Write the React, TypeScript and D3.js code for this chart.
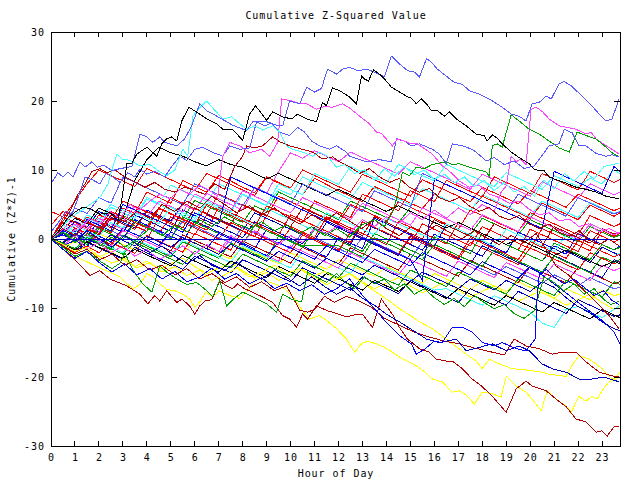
import React from "react";
import * as d3 from "d3";

type Pt = [number, number];

// ---------- axis data ----------
const HOUR_TICKS = d3.range(0, 24);
const VALUE_TICKS = [-30, -20, -10, 0, 10, 20, 30];
const TITLE = "Cumulative Z-Squared Value";
const X_TITLE = "Hour of Day";
const Y_TITLE = "Cumulative (Z*Z)-1";

// half-hour sample grid used by the dense "tangle" series
const GRID = [0,0.5,1,1.5,2,2.5,3,3.5,4,4.5,5,5.5,6,6.5,7,7.5,8,8.5,9,9.5,10,10.5,11,11.5,12,12.5,13,13.5,14,14.5,15,15.5,16,16.5,17,17.5,18,18.5,19,19.5,20,20.5,21,21.5,22,22.5,23,23.5,23.75];

// ---------- tangle series (values on GRID) ----------
const t01 = [0,1.5,0.8,3.2,2.4,1.6,4.5,3.7,6.8,6.0,5.2,8.5,7.6,6.8,9.2,8.4,7.5,6.7,9.0,8.1,7.2,6.4,8.8,7.9,7.0,6.2,5.4,7.6,6.8,6.0,5.2,4.4,6.5,5.7,4.9,4.1,6.2,5.4,4.6,3.8,3.0,5.2,4.4,3.6,2.8,4.9,4.1,3.3,3.8];
const t02 = [0,-0.8,1.2,0.4,2.6,1.8,1.0,3.5,2.7,1.9,1.1,4.2,3.4,2.6,1.8,1.0,0.2,2.5,1.7,0.9,0.1,-0.7,1.6,0.8,0.0,-0.8,2.4,1.6,0.8,0.0,-0.8,-1.6,0.7,-0.1,-0.9,-1.7,-2.5,0.0,-0.8,-1.6,-2.4,-3.2,-1.0,-1.8,-2.6,-3.4,-1.2,-2.0,-2.4];
const t03 = [0,1,0.2,-0.6,1.8,1,3.4,2.6,1.8,4.5,3.7,2.9,5.6,4.8,4,3.2,2.4,4.8,4,6.8,6,5.2,4.4,3.6,2.8,5.5,4.7,3.9,3.1,2.3,4.6,3.8,3,2.2,1.4,0.6,3,2.2,1.4,0.6,2.8,2,1.2,0.4,-0.4,1.8,1,0.2,0.6];
const t04 = [0,2,1.2,3.5,2.7,5,4.2,3.4,6,5.2,7.8,7,6.2,5.4,8,7.2,6.4,5.6,4.8,7.2,6.4,9,8.2,7.4,6.6,5.8,8.2,7.4,6.6,5.8,5,7.3,6.5,5.7,4.9,4.1,6.4,5.6,4.8,4,3.2,5.5,4.7,3.9,3.1,5.3,4.5,3.7,4];
const t05 = [0,0.8,2.6,1.8,1,3.2,2.4,4.8,4,3.2,2.4,5,4.2,6.6,5.8,5,4.2,7.4,6.6,9.8,12.5,11.7,12.8,12,11.2,12.6,11.8,11,10.2,9.4,11.2,10.4,9.6,8.8,8,7.2,9.4,8.6,7.8,7,6.2,8.3,7.5,6.7,5.9,8,7.2,6.4,6.8];
const t06 = [2,4,3.2,2.4,1.6,4,3.2,2.4,1.6,0.8,3.2,2.4,1.6,0.8,0,2.4,1.6,0.8,0,-0.8,1.6,0.8,0,-0.8,-1.6,0.9,0.1,-0.7,-1.5,-2.3,0.2,-0.6,-1.4,-2.2,-3,-0.5,-1.3,-2.1,-2.9,-3.7,-1.3,-2.1,-2.9,-3.7,-4.5,-2,-2.8,-3.6,-3.2];
const t07 = [0,-1,-0.2,-1.2,1.5,0.7,-0.1,2.8,2,1.2,0.4,-0.4,2.6,1.8,1,0.2,-0.6,-1.4,1.4,0.6,-0.2,-1,-1.8,-2.6,0.2,-0.6,-1.4,3,2.2,1.4,0.6,-0.2,-1,2,1.2,0.4,-0.4,-1.2,-2,1,0.2,-0.6,-1.4,-2.2,0.8,0,-0.8,-1.6,-1];
const t08 = [0,-0.6,1.6,0.8,0,-0.8,1.5,0.7,-0.1,-0.9,-1.7,0.6,-0.2,-1,-1.8,-2.6,-0.3,-1.1,-1.9,-2.7,-3.5,-1.2,-2,-2.8,-3.6,-1.3,-2.1,-2.9,-3.7,-4.5,-2.2,-3,-3.8,-4.6,-5.4,-3.1,-3.9,-4.7,-5.5,-6.3,-4,-4.8,-5.6,-6.4,-4.1,-4.9,-5.7,-6.5,-6.2];
const t09 = [0,1.4,0.6,-0.2,2,1.2,0.4,-0.4,1.8,1,0.2,2.6,1.8,1,0.2,-0.6,1.8,1,0.2,-0.6,-1.4,1,0.2,-0.6,-1.4,-2.2,0.3,-0.5,-1.3,-2.1,-2.9,-0.4,-1.2,-2,-2.8,-3.6,-4.4,-5.2,-4,-4.8,-5.6,-6.4,-5.2,-6,-6.8,-5.6,-6.4,-7.2,-7];
const t10 = [0,-1,-2,0.5,-0.3,-1.1,1.5,0.7,-0.1,3,2.2,1.4,0.6,3.5,2.7,1.9,1.1,0.3,3.4,2.6,1.8,1,0.2,3.2,2.4,1.6,0.8,0,-0.8,2.5,1.7,0.9,0.1,-0.7,2.4,1.6,0.8,0,-0.8,-1.6,1.4,0.6,-0.2,-1,-1.8,1.2,0.4,-0.4,0];
const t11 = [0,-1.2,-0.4,-1.6,-2.6,-1.8,-3,-4,-3.2,-4.4,-3.6,-2.8,-4,-5,-4.2,-3.4,-4.6,-5.6,-4.8,-6,-5.2,-4.4,-5.6,-6.6,-5.8,-5,-6.2,-7.2,-6.4,-5.6,-6.8,-7.8,-7,-6.2,-7.4,-8.4,-7.6,-6.8,-8,-9,-8.2,-7.4,-8.6,-9.6,-8.8,-8,-9.2,-10.2,-9.8];
const t12 = [0,1,2.5,1.7,4,3.2,2.4,1.6,4.2,3.4,2.6,5.2,4.4,3.6,2.8,2,1.2,3.8,3,2.2,1.4,0.6,-0.2,2.4,1.6,0.8,0,-0.8,-1.6,-2.4,0.4,-0.4,-1.2,-2,-2.8,-3.6,-1,-1.8,-2.6,-3.4,-4.2,-5,-2.4,-3.2,-4,-4.8,-5.6,-3,-3.4];
const t13 = [0,-1,0.8,0,-0.8,-1.6,0.6,-0.2,-1,-1.8,-2.6,-0.4,-1.2,-2,-2.8,-0.6,-1.4,-2.2,-3,0.5,-0.3,-1,-1,-1,-1,-1.8,-2.6,0.2,-0.6,-1.4,-2.2,-3,-0.8,-1.6,-2.4,-3.2,-4,-1.6,-2.4,-3.2,-4,-4.8,-2.5,-3.3,-4.1,-4.9,-2.6,-3.4,-3];
const t14 = [0,2.4,1.6,0.8,3.5,2.7,5.5,4.7,3.9,3.1,6,5.2,4.4,3.6,6.5,5.7,4.9,4.1,3.3,6.2,5.4,4.6,3.8,3,2.2,5,4.2,3.4,2.6,5.4,4.6,3.8,3,2.2,1.4,4.2,3.4,2.6,1.8,1,3.8,3,2.2,1.4,0.6,3.4,2.6,1.8,2.2];
const t15 = [0,-0.8,-1.6,0.4,-0.4,-1.2,-2,0,-0.8,-1.6,-2.4,-0.2,-1,-1.8,-2.6,-3.4,-1,-1.8,-2.6,-3.4,-4.2,-1.8,-2.6,-3.4,-4.2,-5,-2.6,-3.4,-4.2,-5,-5.8,-6.6,-7.4,-7.2,-8,-8.8,-9.6,-8.2,-9,-9.8,-10.6,-12.2,-12.8,-10.2,-9.8,-10.6,-11.4,-10.2,-9.6];
const t16 = [0,-0.6,1.4,0.6,-0.2,-1,1.2,0.4,-0.4,-1.2,1,0.2,-0.6,-1.4,-2.2,0,-0.8,-1.6,-2.4,-3.2,-1,-1.8,-2.6,-3.4,-4.2,-2,-2.8,-3.6,-4.4,-5.2,-3,-3.8,-4.6,-5.4,-3.2,-4,-4.8,-5.6,-3.4,-4.2,-5,-5.8,-3.6,-4.4,-5.2,-6,-3.8,-4.6,-4.2];
const t17 = [4,3.2,2.4,1.6,0.8,3.5,2.7,1.9,1.1,4.5,3.7,2.9,2.1,1.3,4.6,3.8,3,2.2,1.4,0.6,3.5,2.7,1.9,1.1,0.3,-0.5,2.5,1.7,0.9,0.1,-0.7,2.2,1.4,0.6,-0.2,-1,1.8,1,0.2,-0.6,-1.4,1.5,0.7,-0.1,-0.9,-1.7,1.2,0.4,0.8];
const t18 = [0,1.2,0.4,2.8,2,1.2,5,4.2,3.4,2.6,1.8,1,3.8,3,2.2,9,8.2,7.4,6.6,5.8,5,4.2,3.4,2.6,1.8,1,0.2,-0.6,-1.4,-2.2,-3,-6,8.7,7.9,7.1,6.3,5.5,4.7,3.9,3.1,2.3,1.5,9.8,9,8.2,7.4,6.6,10.5,9.8];
const t19 = [0,1,2.2,1.4,0.6,3,2.2,1.4,4,3.2,2.4,1.6,4.5,3.7,2.9,2.1,5,4.2,3.4,2.6,1.8,4.5,3.7,2.9,2.1,1.3,0.5,3.2,2.4,1.6,0.8,0,2.8,2,1.2,0.4,-0.4,2.2,1.4,0.6,-0.2,-1,1.8,1,0.2,-0.6,1.5,0.7,1];
const t20 = [0,-1.2,-2,-0.5,-1.3,-2.1,-2.9,-1.2,-2,-2.8,-3.6,-4.4,-2.5,-3.3,-4.1,-4.9,-3,-3.8,-4.6,-5.4,-6.2,-4.2,-5,-5.8,-6.6,-7.4,-5.5,-6.3,-7.1,-7.9,-6,-6.8,-7.6,-8.4,-9.2,-7.2,-8,-8.8,-9.6,-7.6,-8.4,-9.2,-10,-10.8,-8.8,-9.6,-10.4,-11.2,-11];
const t21 = [0,0.8,0,-0.8,1.5,0.7,-0.1,2.4,1.6,0.8,0,3.2,2.4,1.6,0.8,0,-0.8,2,1.2,0.4,-0.4,-1.2,1.4,0.6,-0.2,-1,-1.8,0.8,0,-0.8,-1.6,-2.4,0.3,-0.5,-1.3,-2.1,0.8,0,-0.8,-1.6,-2.4,-3.2,-0.6,-1.4,-2.2,-3,-0.8,-1.6,-1.2];
const t22 = [0,1.6,0.8,3,2.2,4.6,3.8,3,5.8,5,4.2,3.4,2.6,5.2,4.4,3.6,2.8,2,4.4,3.6,2.8,2,1.2,3.8,3,2.2,1.4,0.6,3,2.2,1.4,0.6,-0.2,2.2,1.4,0.6,-0.2,-1,1.4,0.6,-0.2,-1,-1.8,0.6,-0.2,-1,-1.8,-2.6,-2];
const t23 = [0,-1,-2,-1,-2,-0.5,-1.3,-2.1,0.5,-0.3,-1.1,-1.9,0.8,0,-0.8,-1.6,1.2,0.4,-0.4,-1.2,-2,0.6,-0.2,-1,-1.8,1,0.2,-0.6,-1.4,-2.2,0.5,-0.3,-1.1,-1.9,-2.7,0.2,-0.6,-1.4,-2.2,-3,-0.4,-1.2,-2,-2.8,-0.2,-1,-1.8,-2.6,-2.2];
const t24 = [0,-0.8,-1.6,-0.4,-1.2,-2,-2.8,-1.5,-2.3,-3.1,-3.9,-2.4,-3.2,-4,-4.8,-3.2,-4,-4.8,-5.6,-4,-4.8,-5.6,-6.4,-5,-5.8,-6.6,-7.4,-6,-6.8,-7.6,-6.2,-7,-7.8,-8.6,-7.2,-8,-8.8,-9.6,-8.2,-9,-9.8,-10.6,-9.2,-10,-10.8,-11.6,-10.2,-11,-11.4];
const t25 = [0,1.5,3,2.2,4.5,3.7,2.9,8.5,11.5,13.3,12.5,12,11.2,10.6,11.5,10.8,10.4,9.5,8.7,9.5,8.7,7.9,7.1,6.3,7.2,6.4,5.6,4.8,4,4.8,4,3.2,2.4,1.6,2.4,1.6,0.8,0,-0.8,0,-0.8,-1.6,-2.4,-1.6,-2.4,-3.2,-4,-3.2,-3.6];
const t26 = [0,3,5.5,8,10,9.2,8.4,7.6,10.2,9.4,8.6,7.8,7,9.5,8.7,7.9,7.1,6.3,9,8.2,7.4,10,9.2,8.4,7.6,6.8,9.4,8.6,7.8,7,6.2,8.6,7.8,7,6.2,5.4,7.5,6.7,5.9,5.1,7,6.2,5.4,4.6,6.5,5.7,4.9,4.1,4.5];
const t27 = [0,2,4.5,3.7,6,5.2,9,8.2,7.4,6.6,5.8,5,8,7.2,6.4,5.6,4.8,7.5,6.7,5.9,5.1,8,7.2,6.4,5.6,4.8,4,7,6.2,5.4,4.6,9.5,8.7,7.9,7.1,6.3,5.5,4.7,3.9,6.5,5.7,4.9,4.1,3.3,6,5.2,4.4,3.6,4];
const t28 = [0,0.6,-0.2,1.2,0.4,-0.4,1.5,0.7,-0.1,-0.9,1,0.2,-0.6,-1.4,0.8,0,-0.8,-1.6,-2.4,-0.5,-1.3,-2.1,-2.9,-1,-1.8,-2.6,-3.4,-1.5,-2.3,-3.1,-3.9,-2,-2.8,-3.6,-4.4,-5.2,-3.3,-4.1,-4.9,-5.7,-4,-5.2,-6.5,-7.8,-9.2,-10.5,-11.8,-13.5,-15.2];
const t29 = [0,-0.5,0.8,0,-0.8,0.6,-0.2,-1,0.4,-0.4,-1.2,0.2,-0.6,-1.4,-2.2,-0.8,-1.6,-2.4,-3.2,-1.8,-2.6,-3.4,-4.2,-2.8,-3.6,-4.4,-5.2,-3.8,-4.6,-5.4,-6.2,-4.8,-5.6,-6.4,-7.2,-5.8,-6.6,-7.4,-6,-6.8,-7.6,-6.2,-7,-8.5,-9.8,-10.7,-12,-13,-13.3];
const t30 = [0,1,0.2,-0.6,0.8,0,-0.8,-1.6,0.5,-0.3,-1.1,-1.9,-0.5,-1.3,-2.1,-2.9,-1.2,-2,-2.8,-3.6,-2,-2.8,-3.6,-4.4,-3,-3.8,-4.6,-5.4,-4,-4.8,-5.6,-6.4,-5,-5.8,-6.6,-7.4,-6,-6.8,-7.6,-6.2,-7,-7.8,-8.6,-7.2,-8,-8.8,-7.4,-8.2,-8];
const t31 = [0,1.2,0.4,2.5,1.7,0.9,3.2,2.4,1.6,4.4,3.6,2.8,2,5,4.2,3.4,2.6,1.8,4.8,4,3.2,2.4,5.5,4.7,3.9,3.1,6.5,5.7,4.9,4.1,7,6.2,5.4,8.5,7.7,6.9,6.1,9,8.2,7.4,6.6,9.5,8.7,7.9,7.1,9.8,9,8.2,8.6];
const t32 = [0,-0.6,-1.4,0.2,-0.6,-1.4,-2.2,-0.5,-1.3,-2.1,-2.9,-3.7,-1.8,-2.6,-3.4,-4.2,-2.2,-3,-3.8,-4.6,-5.4,-3.2,-4,-4.8,-5.6,-3.5,-4.3,-5.1,-5.9,-6.7,-4.5,-5.3,-6.1,-6.9,-4.8,-5.6,-6.4,-7.2,-8,-5.8,-6.6,-7.4,-8.2,-6,-6.8,-7.6,-8.4,-6.2,-6.6];
const t33 = [0,1,2.2,1.4,3,2.2,1.4,4,3.2,5.5,4.7,3.9,6.5,5.7,4.9,4.1,7,6.2,5.4,4.6,3.8,6,5.2,4.4,3.6,2.8,5.2,4.4,3.6,2.8,2,4.5,3.7,2.9,2.1,1.3,3.5,2.7,1.9,1.1,3.2,2.4,1.6,0.8,0,2.2,1.4,0.6,1];
const t34 = [0,0.8,2,1.2,0.4,2.4,1.6,3.8,3,2.2,4.6,3.8,3,5.5,4.7,3.9,6.5,5.7,4.9,8,7.2,6.4,9.5,8.7,7.9,10.5,9.7,8.9,8.1,10.8,10,9.2,8.4,10.8,10,9.2,8.4,7.6,9.6,8.8,8,7.2,9.2,8.4,7.6,8.8,8,10,9.5];

// early part of the late-jumping magenta series, on GRID up to 18.5 h
const fEarly = [0,-1,0.5,-1.5,-0.5,-2,-1,-2.5,-1.5,-3,-2,-1,-2.2,-0.8,-1.8,0.5,-0.5,1.2,0.2,-0.8,0.5,-0.5,1.5,0.8,2,1,2.8,1.8,3.2,2.2,3.8,2.8,4.2,3,4.5,3.5,5,4];

// ---------- traced series ([hour, value]) ----------
const sA: Pt[] = [[0,8],[0.29,9.6],[0.5,9],[0.71,9.7],[0.92,9],[1.21,11.2],[1.42,10.4],[1.71,11.2],[1.92,10.4],[2.21,10.7],[2.54,9.9],[2.88,10.2],[3.38,10.5],[3.71,15.2],[4,14.8],[4.25,14],[4.54,14.8],[4.75,14],[5.25,13.5],[5.58,14.5],[5.88,16.5],[6.21,19.6],[6.5,18.6],[6.92,17.8],[7.33,17],[7.58,16.5],[8.17,15.7],[8.42,17],[9,17],[9.42,16.5],[9.67,16.4],[9.96,20],[10.38,19.6],[10.67,22],[11,21.3],[11.29,21.8],[11.54,24.6],[11.92,23.9],[12.17,24.6],[12.46,24.9],[12.79,24.4],[13.17,24.6],[13.5,24.2],[13.92,23.5],[14.21,26.5],[14.54,25.4],[14.88,24.4],[15.17,24.2],[15.38,23.5],[15.67,26.1],[15.83,25.8],[16.13,24.6],[16.5,23.6],[16.83,22.7],[17.17,22.4],[17.46,21.5],[17.88,21],[18.29,20.3],[18.83,19.1],[19.21,18.1],[19.54,17.8],[19.83,17.1],[20.08,19.6],[20.38,19.8],[20.67,20.7],[20.88,20.3],[21.21,22.5],[21.42,22.8],[21.71,22.2],[22.17,20.7],[22.58,19.3],[22.88,18.1],[23.17,17.1],[23.42,17.4],[23.71,20.3]];
const sB: Pt[] = [[0,0],[0.29,1],[0.67,2.9],[1,3.9],[1.33,4.6],[1.63,4.4],[2.04,3.6],[2.46,3.8],[2.79,2.6],[2.96,5.8],[3.17,10.9],[3.38,11],[3.58,12.3],[4,13.3],[4.42,12],[4.63,13.8],[4.83,14.5],[5.04,14.8],[5.25,14.2],[5.46,17.1],[5.75,19.1],[6.08,18.4],[6.5,17.4],[6.92,16.7],[7.17,15.9],[7.58,15.9],[8,14.3],[8.29,18.1],[8.54,19.3],[9,17.2],[9.25,18.4],[9.67,17.7],[10.04,17.4],[10.29,18.1],[10.67,17.4],[11.08,17],[11.33,19.8],[11.5,19.3],[11.75,21.9],[12.04,21.5],[12.46,20.6],[12.75,19.6],[12.96,23.6],[13.08,23.2],[13.25,22.9],[13.46,24.5],[13.71,23.9],[13.92,23.2],[14.21,22],[14.46,21.5],[14.83,20.7],[15.04,20.4],[15.25,19.6],[15.46,20.3],[15.67,19.6],[15.88,18.6],[16.13,18.6],[16.42,17.8],[16.63,18.4],[16.92,17.4],[17.33,16.4],[17.75,15.2],[18.08,15],[18.21,14.2],[18.42,15.1],[18.63,14.6],[18.83,13.8],[19.21,12.6],[19.54,11.8],[19.96,10.9],[20.17,10.1],[20.38,9.9],[20.58,9.9],[20.79,9],[21.08,8.6],[21.42,8.2],[21.92,7.5],[22.33,7.2],[22.75,6.8],[23.17,6.2],[23.46,6],[23.71,5.8]];
const sC: Pt[] = [[0,0],[0.38,1.5],[0.79,3],[1.21,4],[1.63,5],[2.04,6],[2.38,8],[2.54,10],[2.75,12.3],[2.96,11.6],[3.29,11.4],[3.71,10.6],[4.13,10.8],[4.54,9.7],[4.83,9.2],[5.17,10],[5.5,13],[5.71,12],[5.92,17.8],[6.21,19],[6.5,20],[6.75,19],[7.17,17.4],[7.54,17.7],[7.88,16.7],[8.17,15.9],[8.5,16.4],[8.83,15.8],[9.25,16.4],[9.54,15.5],[9.83,13.5],[10.08,13],[10.5,12.6],[10.92,12],[11.21,12.6],[11.54,12],[11.92,10.4],[12.25,10.8],[12.67,9.5],[13.08,10],[13.5,8.5],[13.92,10.2],[14.33,9.1],[14.75,10.5],[15.17,9.3],[15.58,10],[16,8.6],[16.42,9.4],[16.83,8.1],[17.25,9],[17.67,7.6],[18.08,8.5],[18.5,7],[18.92,8.2],[19.33,6.8],[19.75,7.6],[20.17,6.2],[20.58,8.5],[21,7.3],[21.42,9.5],[21.83,8.4],[22.25,9.8],[22.67,8.7],[23.08,10.5],[23.71,11]];
const sD1: Pt[] = [[0,0],[0.38,2],[0.79,4],[1.13,6.5],[1.42,8],[1.71,9.8],[2.04,10.2],[2.33,9.6],[2.67,10],[3.08,9],[3.5,8.3],[3.92,7.5],[4.33,8.2],[4.75,7.2],[5.17,6.8],[5.58,7.5],[6,7],[6.42,6.5],[6.83,8],[7.25,7.2],[7.67,10.5],[8,12],[8.17,13.5],[8.5,13.2],[8.83,13.5],[9.25,14.8],[9.54,14.1],[9.96,13.5],[10.5,13],[10.92,12.6],[11.33,11.6],[11.75,11.9],[12.04,11.2],[12.46,10.5],[12.88,9.5],[13.29,10.2],[13.71,9],[14.13,8.2],[14.54,8.8],[14.96,7.5],[15.38,6.8],[15.79,7.3],[16.21,6],[16.63,5.4],[17.04,6],[17.46,4.8],[17.88,4],[18.29,4.6],[18.71,3.3],[19.13,2.8],[19.54,3.4],[19.96,2.2],[20.38,1.5],[20.79,2.2],[21.21,1],[21.63,0.4],[22.04,1.2],[22.46,-0.2],[22.88,-0.8],[23.29,0],[23.71,-1]];
const sE: Pt[] = [[0,0],[0.38,1],[0.79,2.5],[1.21,1.5],[1.63,3],[2.04,2.2],[2.46,4],[2.88,3],[3.29,5],[3.71,4.2],[4.13,5.5],[4.54,6.5],[4.96,5.8],[5.38,7.2],[5.79,6.5],[6.21,7.8],[6.63,7],[6.96,6.2],[7.17,12],[7.46,14],[7.88,13.5],[8.29,12.5],[8.79,13],[9.13,12],[9.46,14],[9.63,20.3],[10.04,20],[10.38,19.6],[10.67,19.6],[11.08,18.8],[11.42,19.2],[11.75,19.1],[12.17,19.6],[12.46,19],[12.88,17.8],[13.29,16.7],[13.58,15.5],[13.79,15.3],[13.92,14.8],[14.25,13.5],[14.46,14.5],[14.75,14.2],[15.04,13.8],[15.29,13.8],[15.5,13.3],[15.92,12.3],[16.33,10.6],[16.54,10.1],[16.83,9.2],[17.04,8.4],[17.46,7.5],[17.88,7.8],[18.29,6.5],[18.71,6],[19.13,5.2],[19.54,5.5],[19.96,4.3],[20.38,3.5],[20.79,3.8],[21.21,2.6],[21.63,2.9],[22.04,1.8],[22.46,2.2],[22.88,1],[23.29,1.5],[23.71,0.8]];
const fLate: Pt[] = [[18.79,6.8],[19,7.7],[19.21,12],[19.42,11.2],[19.6,11.6],[19.83,10.8],[20.04,18.8],[20.25,19.1],[20.5,18.5],[20.79,17.4],[21.21,16.4],[21.5,16.2],[21.92,15.9],[22.33,15.2],[22.54,15.5],[22.75,14.5],[23.17,13.5],[23.42,13],[23.71,12.3]];
const sG: Pt[] = [[0,0],[0.5,1],[1,-0.5],[1.54,0.8],[2.04,-1],[2.54,0.3],[3.08,-1.2],[3.58,0],[4.13,1.5],[4.63,0.5],[5.17,2],[5.67,1],[6.21,2.8],[6.71,1.8],[7.25,3.2],[7.75,2.2],[8.29,1.5],[8.79,2.5],[9.33,1.2],[9.83,2],[10.38,0.8],[10.88,1.8],[11.42,0.5],[11.92,1.5],[12.46,0.3],[12.96,2],[13.5,2.8],[13.92,1.8],[14.25,3.9],[14.42,5.8],[14.67,9.7],[14.96,9.2],[15.25,10.4],[15.58,10.2],[15.92,10.8],[16.5,11.2],[16.75,10.8],[17.04,10.9],[17.46,10.4],[17.88,10],[18.17,9.7],[18.29,9.1],[18.42,13.5],[18.63,13.8],[18.83,13.3],[19.21,18],[19.54,17.1],[19.96,15.9],[20.38,15.2],[20.79,14.2],[21.21,13.2],[21.63,12.6],[21.96,15.5],[22.33,15],[22.75,14.5],[23.17,13.3],[23.42,12.5],[23.71,11.9]];
const sH: Pt[] = [[0,1],[0.29,2.3],[0.63,4],[0.88,3.5],[1.13,6],[1.42,9],[1.71,8.6],[2.04,8],[2.29,9.5],[2.58,9],[2.88,8.2],[3.21,9.6],[3.5,9],[3.71,10.1],[4,9.4],[4.33,9.8],[4.75,9],[5.04,10.5],[5.38,12],[5.67,11.4],[6,13],[6.33,13.3],[6.71,12.6],[7.17,12],[7.46,13.5],[7.88,13],[8.29,13.2],[8.58,17],[8.92,16.4],[9.21,16.8],[9.54,15.5],[9.96,15],[10.29,16.2],[10.58,15.5],[10.88,14.2],[11.21,13.5],[11.63,13],[11.92,13.5],[12.33,12.6],[12.46,12],[13.17,11.2],[13.71,11.5],[14.21,11.2],[14.42,14.5],[14.75,14.2],[15.04,13.5],[15.38,13.8],[15.92,13],[16.21,12.3],[16.5,10.9],[16.75,13.8],[17.17,13.5],[17.58,13],[17.88,12.2],[18.17,11.3],[18.5,11.8],[18.92,10.8],[19.33,11.3],[19.75,10.2],[20.17,10.6],[20.58,12.5],[20.79,13.5],[21.21,13.8],[21.42,15.9],[21.75,15.4],[22.04,13.5],[22.33,13.5],[22.75,12.4],[23.17,12],[23.42,12.2],[23.71,11.9]];
const sI: Pt[] = [[0,0],[0.5,-1.5],[1,-3],[1.63,-5.3],[2.04,-4.6],[2.46,-5.8],[3.17,-6.8],[3.71,-8],[4.04,-9.4],[4.33,-8.2],[4.54,-9],[4.83,-7.5],[5.25,-9.2],[5.46,-8.7],[5.79,-9.7],[6,-10.9],[6.21,-9.7],[6.42,-9],[6.71,-8.8],[7.04,-6.1],[7.33,-6.8],[7.58,-7.2],[7.79,-6.5],[8.08,-7.2],[8.46,-7.8],[8.83,-8.4],[9.25,-9.2],[9.67,-11.1],[9.96,-11.6],[10.25,-12.8],[10.5,-10.9],[10.71,-11.6],[11.08,-9.7],[11.21,-9.9],[11.54,-10.4],[11.92,-10.8],[12.33,-11.3],[12.67,-11],[13,-10.9],[13.42,-12.8],[13.79,-8.7],[14.04,-9.9],[14.29,-11.1],[14.54,-12.8],[14.88,-14.5],[15.38,-15.9],[15.79,-16.4],[16.08,-17.4],[16.5,-17.7],[16.75,-17.7],[17.17,-18.8],[17.58,-20.3],[18,-21.4],[18.42,-22.8],[19,-25.1],[19.42,-21.7],[19.83,-20.6],[20.08,-21.3],[20.67,-22],[21.08,-23.2],[21.5,-24.3],[21.92,-26.1],[22.33,-26.5],[22.75,-28],[23,-27.8],[23.21,-28.6],[23.5,-27.2],[23.71,-27.1]];
const sJ: Pt[] = [[0,0],[0.5,-1.5],[1,-2.5],[1.5,-3.3],[2.04,-4.2],[2.46,-4.8],[2.88,-5.5],[3.17,-6.5],[3.42,-7.2],[3.71,-6.6],[4,-5],[4.25,-5.5],[4.54,-6.5],[4.83,-7.3],[5.17,-7.5],[5.5,-8],[5.79,-8.7],[6,-9.9],[6.21,-9.1],[6.46,-7.7],[6.75,-8.4],[7.04,-7.5],[7.46,-8.2],[7.88,-8.6],[8.29,-7.2],[8.54,-5.5],[8.83,-5.9],[9.33,-6.5],[9.75,-7.2],[10.08,-8.3],[10.5,-10.4],[10.79,-11.6],[11.21,-11.1],[11.5,-11.8],[11.92,-13],[12.33,-14.5],[12.67,-16.4],[12.96,-15.2],[13.21,-14.8],[13.58,-15.2],[13.92,-15.7],[14.25,-16.4],[14.54,-17.1],[14.88,-17.7],[15.25,-18.4],[15.58,-19.2],[15.92,-20.3],[16.33,-20.7],[16.75,-22.2],[17.04,-22],[17.33,-22.6],[17.67,-23.9],[18,-22.2],[18.38,-22.4],[18.79,-22.9],[19,-19.9],[19.42,-21.3],[19.83,-22.2],[20.08,-23.2],[20.46,-24.9],[20.71,-22],[21.08,-23.2],[21.5,-24.2],[21.71,-25.1],[22.04,-22.8],[22.33,-23.5],[22.58,-22.8],[22.79,-23.2],[23,-22],[23.29,-20.7],[23.58,-20.3],[23.71,-19.3]];
const sK: Pt[] = [[0,0],[0.5,-0.8],[1,-1.8],[1.5,-1.2],[2.04,-2.6],[2.54,-3.5],[3.08,-2.8],[3.58,-4.2],[4.13,-3.4],[4.63,-4.8],[5.17,-4],[5.67,-5.3],[6.21,-4.5],[6.71,-6],[7.25,-5.2],[7.75,-4.2],[8.29,-5.5],[8.79,-4.8],[9.33,-3.8],[9.83,-5],[10.38,-4.3],[10.88,-5.5],[11.42,-4.7],[11.92,-5.8],[12.46,-5],[12.96,-6.3],[13.58,-7.7],[14.04,-8.8],[14.54,-10.1],[14.96,-11],[15.38,-12],[15.92,-13],[16.5,-14.5],[16.92,-15.6],[17.33,-16.7],[17.75,-17.7],[18,-18.8],[18.29,-17.4],[18.71,-18.1],[19.25,-18.8],[19.67,-18.9],[20.08,-19.1],[20.5,-19.3],[20.79,-19.6],[21.21,-19.8],[21.5,-19.9],[21.75,-18.3],[22.04,-16.9],[22.46,-17.4],[23,-18.8],[23.42,-20.3],[23.71,-19.9]];
const sL1: Pt[] = [[0,0],[0.5,-1.5],[1,-2.8],[1.5,-1.8],[2.04,-3.5],[2.54,-4.8],[3.08,-3.6],[3.58,-5.2],[4.13,-4.3],[4.63,-5.8],[5.17,-4.7],[5.67,-6.2],[6.21,-5.5],[6.71,-4.2],[7.25,-5.8],[7.75,-5],[8.29,-6.5],[8.79,-5.6],[9.33,-7.2],[9.83,-6.4],[10.38,-7.5],[10.88,-6.6],[11.42,-8],[11.92,-7.2],[12.46,-5.8],[12.96,-8],[13.5,-10.1],[14,-12.1],[14.54,-14],[15.04,-15.2],[15.25,-16.7],[15.58,-16],[16,-14.8],[16.33,-15],[16.75,-12.8],[17.17,-12.8],[17.58,-13.5],[18,-15],[18.5,-15.5],[18.83,-15],[19.42,-15.9],[19.83,-16.2],[20.21,-14.5],[20.29,-8.4],[20.38,-5.2],[20.67,-4.4],[21,-5.5],[21.42,-6.5],[21.83,-5.8],[22.25,-7],[22.67,-8.2],[23.08,-7.5],[23.38,-8.8],[23.71,-9.5]];
const sL2: Pt[] = [[0,0],[0.5,0.8],[1,-0.5],[1.5,1.2],[2.04,0],[2.54,-1.2],[3.08,0.5],[3.58,-0.8],[4.13,-2],[4.63,-1],[5.17,-2.5],[5.67,-3.6],[6.21,-2.4],[6.71,-3.8],[7.25,-4.6],[7.75,-3.3],[8.29,-4.8],[8.79,-5.8],[9.33,-4.5],[9.83,-5.6],[10.38,-6.8],[10.88,-5.5],[11.42,-6.9],[11.92,-8],[12.46,-7],[12.96,-8.5],[13.5,-9.6],[14,-10.9],[14.54,-12],[15.04,-13.1],[15.67,-14.5],[16.21,-15],[16.92,-14.5],[17.33,-16.2],[17.88,-15.7],[18.42,-15.2],[19,-16.2],[19.54,-15.5],[19.96,-16.2],[20.5,-18.1],[20.92,-18.8],[21.5,-19.3],[22.04,-20.3],[22.58,-20.3],[23.08,-20],[23.71,-20.7]];
const sD2: Pt[] = [[0,0],[0.5,-1],[1,-2.2],[1.5,-1.5],[2.04,-3],[2.54,-2.2],[3.08,-3.8],[3.58,-3],[4.13,-4.5],[4.63,-3.8],[5.17,-5.2],[5.67,-4.3],[6.21,-5.8],[6.71,-5],[7.25,-6.3],[7.75,-5.5],[8.29,-7],[8.79,-6.2],[9.33,-7.5],[9.83,-6.8],[10.38,-10.3],[10.71,-10.6],[11,-10.2],[11.42,-8.3],[11.83,-9.2],[12.33,-8.3],[12.88,-9],[13.38,-9.9],[13.92,-11.5],[14.54,-12.5],[15.17,-13.5],[15.79,-14.2],[16.42,-14.8],[17.04,-15.2],[17.67,-15.8],[18.29,-16.3],[18.92,-16.8],[19.33,-14.5],[19.83,-15.5],[20.38,-15.9],[20.92,-16.7],[21.33,-16.4],[21.92,-16.4],[22.33,-17.8],[22.88,-19.3],[23.5,-19.9],[23.71,-20]];
const sD3: Pt[] = [[0,0],[0.5,1.5],[1,0.5],[1.5,2.5],[2.04,1.5],[2.54,3.5],[3.08,2.5],[3.58,4],[4.13,3],[4.63,5],[5.17,4],[5.67,5.5],[6.21,4.5],[6.71,6.2],[7.25,5],[7.75,3.8],[8.29,4.8],[8.79,3.5],[9.33,4.5],[9.83,3.2],[10.38,2.2],[10.88,3.5],[11.42,2.5],[11.92,3.8],[12.46,2.6],[12.96,1.5],[13.5,2.8],[14,1.5],[14.54,0.5],[15.04,1.8],[15.58,0.8],[16.08,2],[16.63,1],[17.13,0],[17.67,1.2],[18.17,0.2],[18.71,-0.8],[19.21,0.5],[19.75,-0.5],[20.25,0.8],[20.67,-1.5],[21.08,-3.9],[21.63,-5.3],[22.17,-7.2],[22.75,-9.1],[23.29,-11.1],[23.71,-13]];
const sG2: Pt[] = [[0,0],[0.5,-1.2],[1,-2.5],[1.5,-1.8],[2.04,-3.2],[2.54,-4.3],[2.88,-3.5],[3.08,-2],[3.42,-4.5],[3.83,-6.5],[4.21,-7.7],[4.54,-3.9],[4.83,-4.8],[5.25,-5.8],[5.67,-6.6],[6.08,-6.3],[6.5,-7.5],[6.75,-8.4],[7.04,-6],[7.33,-9.7],[7.58,-8.8],[8,-7.7],[8.5,-8.5],[9,-9.4],[9.42,-10.6],[9.67,-8],[10.08,-8.8],[10.46,-9.1],[10.71,-4.8],[11.08,-5.5],[11.5,-6.3],[11.92,-5],[12.25,-6.2],[12.67,-7.2],[13.08,-5.5],[13.5,-6.5],[13.92,-5.8],[14.33,-7.4],[14.75,-6.5],[15.17,-8],[15.58,-7.2],[16,-8.5],[16.42,-9.5],[16.83,-8.6],[17.25,-9.8],[17.67,-8.2],[18.08,-9.2],[18.5,-10.1],[18.92,-9.5],[19.33,-10.8],[19.75,-11.5],[20.17,-10.4],[20.58,-5.5],[21,-6.3],[21.42,-7.5],[21.83,-6.5],[22.25,-8],[22.67,-7.2],[23.08,-8.8],[23.38,-9.5],[23.71,-9]];

// ---------- colours ----------
const RED = "#ff0000";
const DARKRED = "#b00000";
const NAVY = "#0000c0";
const BLUE = "#0000ff";
const PERI = "#5858ff";
const CYAN = "#40ffff";
const MAGENTA = "#ff44ff";
const GREEN = "#00a000";
const YELLOW = "#ffff00";
const BLACK = "#000000";

const onGrid = (vals: number[]): Pt[] => vals.map((v, i) => [GRID[i], v] as Pt);

const SERIES: { color: string; pts: Pt[] }[] = [
  { color: YELLOW, pts: onGrid(t11) },
  { color: YELLOW, pts: onGrid(t30) },
  { color: RED, pts: onGrid(t01) },
  { color: NAVY, pts: onGrid(t02) },
  { color: GREEN, pts: onGrid(t03) },
  { color: CYAN, pts: onGrid(t04) },
  { color: MAGENTA, pts: onGrid(t05) },
  { color: RED, pts: onGrid(t06) },
  { color: BLUE, pts: onGrid(t07) },
  { color: DARKRED, pts: onGrid(t08) },
  { color: PERI, pts: onGrid(t09) },
  { color: RED, pts: onGrid(t10) },
  { color: NAVY, pts: onGrid(t12) },
  { color: GREEN, pts: onGrid(t13) },
  { color: RED, pts: onGrid(t14) },
  { color: CYAN, pts: onGrid(t15) },
  { color: MAGENTA, pts: onGrid(t16) },
  { color: RED, pts: onGrid(t17) },
  { color: DARKRED, pts: onGrid(t19) },
  { color: NAVY, pts: onGrid(t20) },
  { color: GREEN, pts: onGrid(t21) },
  { color: CYAN, pts: onGrid(t22) },
  { color: RED, pts: onGrid(t23) },
  { color: BLACK, pts: onGrid(t24) },
  { color: BLACK, pts: onGrid(t25) },
  { color: RED, pts: onGrid(t26) },
  { color: PERI, pts: onGrid(t27) },
  { color: BLUE, pts: onGrid(t28) },
  { color: NAVY, pts: onGrid(t29) },
  { color: RED, pts: onGrid(t31) },
  { color: GREEN, pts: onGrid(t32) },
  { color: MAGENTA, pts: onGrid(t33) },
  { color: CYAN, pts: onGrid(t34) },
  { color: BLUE, pts: onGrid(t18) },
  { color: MAGENTA, pts: [...onGrid(fEarly), ...fLate] },
  { color: YELLOW, pts: sJ },
  { color: YELLOW, pts: sK },
  { color: DARKRED, pts: sI },
  { color: DARKRED, pts: sD2 },
  { color: DARKRED, pts: sD3 },
  { color: GREEN, pts: sG2 },
  { color: NAVY, pts: sL2 },
  { color: BLUE, pts: sL1 },
  { color: DARKRED, pts: sD1 },
  { color: GREEN, pts: sG },
  { color: PERI, pts: sH },
  { color: MAGENTA, pts: sE },
  { color: CYAN, pts: sC },
  { color: PERI, pts: sA },
  { color: BLACK, pts: sB },
];

const W = 640;
const H = 480;
const FONT = "'DejaVu Sans Mono', 'Liberation Mono', monospace";

export default function App() {
  const x = d3.scaleLinear().domain([0, 23.75]).range([51, 620]);
  const y = d3.scaleLinear().domain([-30, 30]).range([446, 32]);
  const line = d3
    .line<Pt>()
    .x((d) => x(d[0]))
    .y((d) => y(d[1]));
  const [x0, x1] = x.range();
  const [y0, y1] = y.range();
  const txt = {
    fontFamily: FONT,
    fontSize: 10,
    letterSpacing: 0.95,
    fill: "#000",
  } as const;

  return (
    <svg
      width={W}
      height={H}
      viewBox={`0 0 ${W} ${H}`}
      style={{ position: "absolute", left: 0, top: 0, background: "#fff" }}
    >
      <rect x={0} y={0} width={W} height={H} fill="#fff" />
      <g shapeRendering="crispEdges" fill="none" strokeWidth={1}>
        {SERIES.map((s, i) => (
          <path key={i} d={line(s.pts) || ""} stroke={s.color} />
        ))}
        <line x1={x0} x2={x1} y1={y(0)} y2={y(0)} stroke={NAVY} />
        <rect x={x0} y={y1} width={x1 - x0} height={y0 - y1} stroke="#000" />
        {HOUR_TICKS.map((h) => (
          <g key={h} stroke="#000">
            <line x1={x(h)} x2={x(h)} y1={y0} y2={y0 - 5} />
            <line x1={x(h)} x2={x(h)} y1={y1} y2={y1 + 5} />
          </g>
        ))}
        {VALUE_TICKS.map((v) => (
          <g key={v} stroke="#000">
            <line x1={x0} x2={x0 + 6} y1={y(v)} y2={y(v)} />
            <line x1={x1} x2={x1 - 6} y1={y(v)} y2={y(v)} />
          </g>
        ))}
      </g>
      <text {...txt} x={336} y={19} textAnchor="middle">
        {TITLE}
      </text>
      {HOUR_TICKS.map((h) => (
        <text key={h} {...txt} x={x(h) + 0.5} y={461} textAnchor="middle">
          {h}
        </text>
      ))}
      {VALUE_TICKS.map((v) => (
        <text key={v} {...txt} x={45} y={y(v) + 4} textAnchor="end">
          {v}
        </text>
      ))}
      <text {...txt} x={336} y={477} textAnchor="middle">
        {X_TITLE}
      </text>
      <text
        {...txt}
        transform={`translate(15,${(y0 + y1) / 2}) rotate(-90)`}
        textAnchor="middle"
      >
        {Y_TITLE}
      </text>
    </svg>
  );
}
